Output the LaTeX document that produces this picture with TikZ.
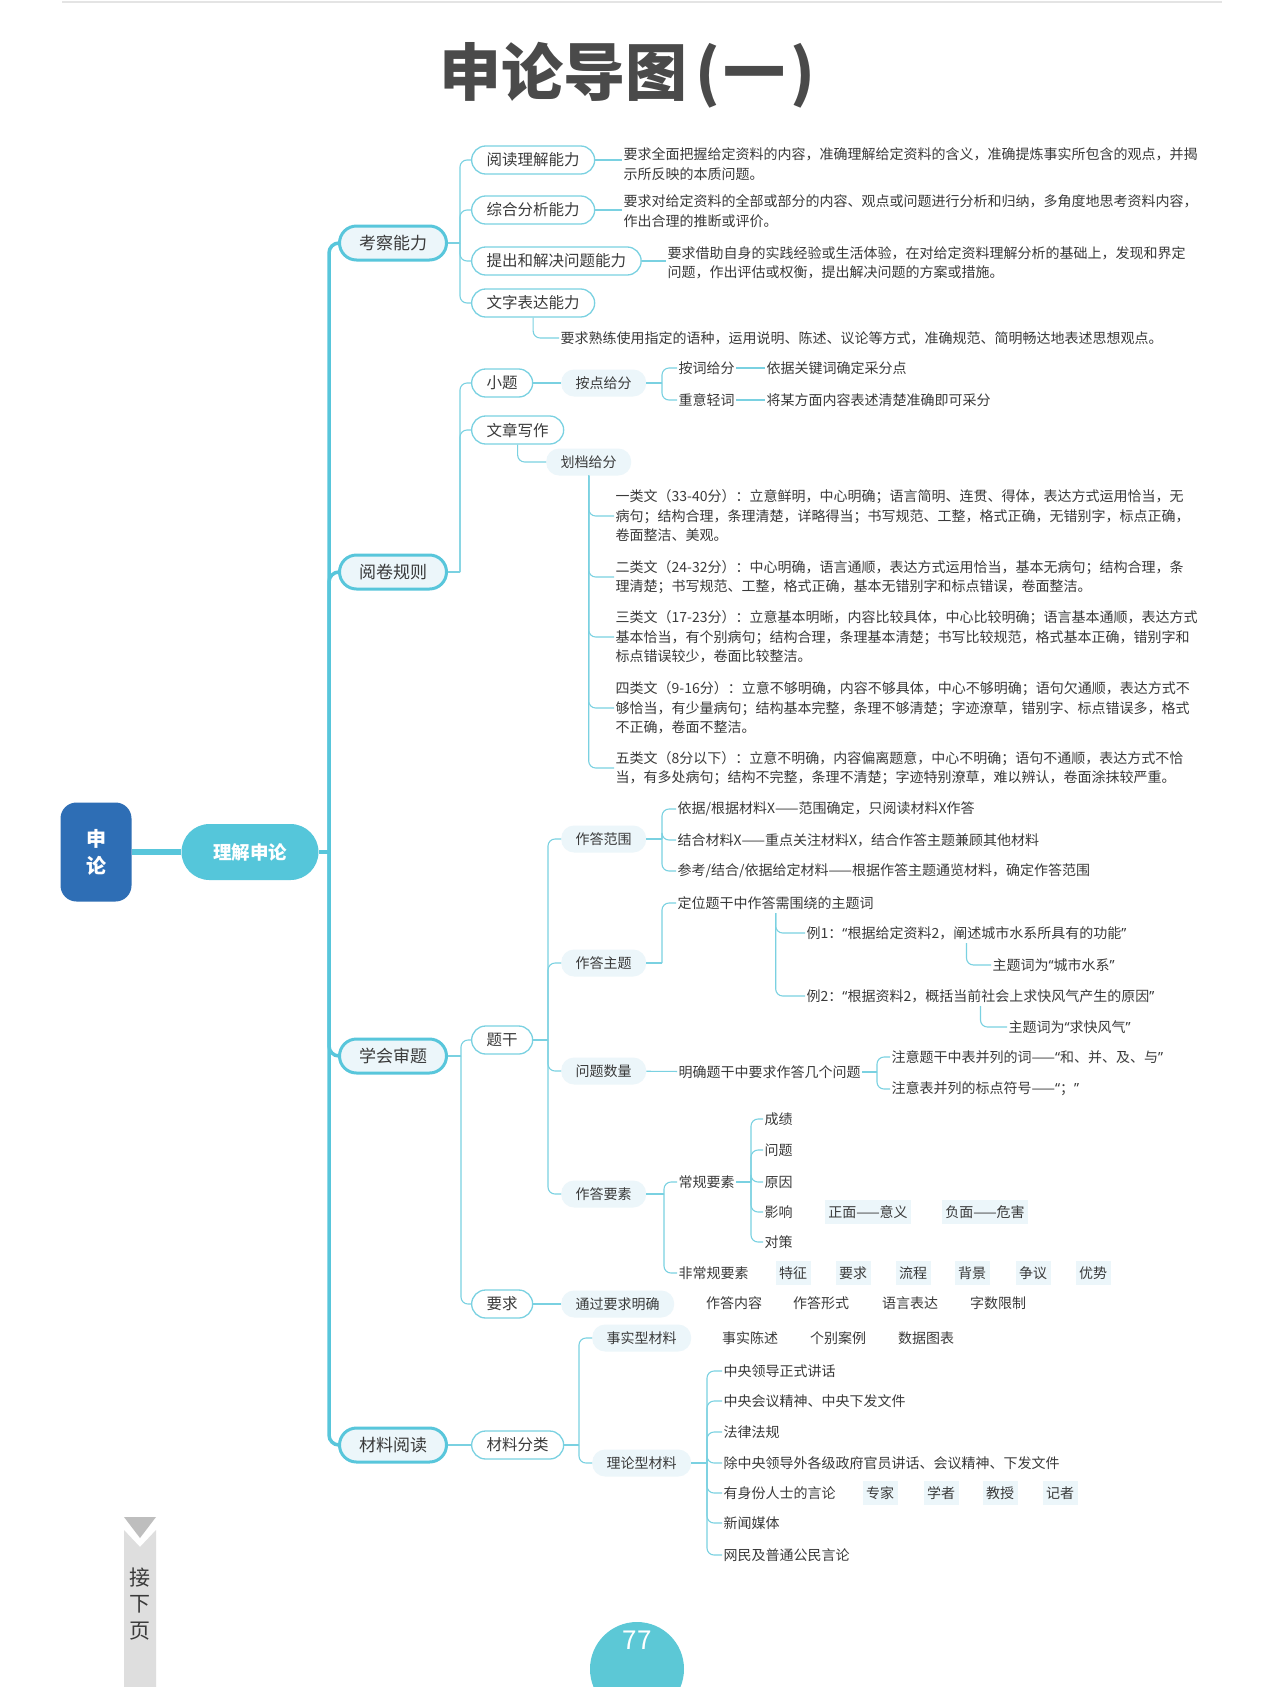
\documentclass[tikz,border=0pt]{standalone}
\usepackage{fontspec}
\setmainfont{Noto Sans CJK SC}
\newfontfamily\qfont{Noto Sans}
\newcommand\oq{{\qfont “}}
\newcommand\cq{{\qfont ”}}
\usepackage{tikz}
\usetikzlibrary{positioning,calc}
\definecolor{linecyan}{RGB}{88,198,219}
\definecolor{thincyan}{RGB}{122,209,225}
\definecolor{softfill}{RGB}{236,246,250}
\definecolor{rootblue}{RGB}{46,110,181}
\definecolor{maincyan}{RGB}{85,198,218}
\definecolor{inkgray}{RGB}{58,58,58}
\definecolor{titlegray}{RGB}{74,74,74}
\definecolor{rulegray}{RGB}{228,228,228}
\definecolor{tabgray}{RGB}{190,190,190}
\definecolor{tablight}{RGB}{222,222,222}
\definecolor{pagecyan}{RGB}{92,200,214}

\tikzset{
  rootbox/.style={fill=rootblue, rounded corners=16pt, minimum width=71pt, minimum height=99pt,
    text=white, align=center, font=\fontsize{20}{27}\selectfont\bfseries},
  mainbox/.style={fill=maincyan, rounded corners=28pt, minimum width=137pt, minimum height=56pt,
    text=white, font=\fontsize{18.5}{20}\selectfont\bfseries},
  lvlone/.style={draw=linecyan, line width=3pt, fill=softfill, rounded corners=17pt,
    minimum width=107pt, minimum height=34pt, inner xsep=0pt, text=inkgray, font=\fontsize{17}{20}\selectfont},
  lvltwo/.style={draw=thincyan, line width=1.3pt, fill=white, rounded corners=14pt, anchor=west,
    minimum height=28pt, inner xsep=15pt, text=inkgray, font=\fontsize{15.5}{18}\selectfont},
  softbox/.style={fill=softfill, rounded corners=13pt, anchor=west, minimum height=27pt,
    inner xsep=14.5pt, text=inkgray, font=\fontsize{14}{17}\selectfont},
  tagbox/.style={fill=softfill, minimum height=24pt, inner xsep=3.5pt, text=inkgray,
    font=\fontsize{14}{17}\selectfont},
  leaf/.style={anchor=west, inner xsep=1.5pt, text=inkgray, font=\fontsize{14}{17}\selectfont},
  para/.style={leaf, align=left, font=\fontsize{14}{19.5}\selectfont},
  link/.style={draw=thincyan, line width=1.1pt, rounded corners=7pt},
  trunk/.style={draw=linecyan, line width=3.5pt, rounded corners=10pt}
}

\begin{document}
\begin{tikzpicture}[x=1pt,y=-1pt]
\useasboundingbox[fill=white] (0,0) rectangle (1280,1687);

% title
\draw[rulegray, line width=1.5pt] (62,2) -- (1222,2);
\node[text=titlegray, font=\fontsize{62}{64}\selectfont\bfseries] (title) at (627,75)
  {申论导图\kern8pt(\kern4pt一\kern4pt)};

% root and main topic
\node[rootbox] (root) at (96,852) {申\\论};
\node[mainbox] (ljsl) at (250,852) {理解申论};
\draw[linecyan, line width=6pt] (root.east) -- (ljsl.west);
\coordinate (tr) at (329,852);
\draw[trunk] (ljsl.east) -- (tr);

\node[lvlone] (kc) at (393,243) {考察能力};
\node[lvlone] (yj) at (393,572) {阅卷规则};
\node[lvlone] (xh) at (393,1056) {学会审题};
\node[lvlone] (cl) at (393,1445) {材料阅读};
\foreach \n in {kc,yj,xh,cl} \draw[trunk] (tr) |- (\n.west);

% 考察能力
\coordinate (kcb) at (460,243);
\draw[link] (kc.east) -- (kcb);
\node[lvltwo] (ydlj) at (471,160) {阅读理解能力};
\node[lvltwo] (zhfx) at (471,210) {综合分析能力};
\node[lvltwo] (tcjj) at (471,261) {提出和解决问题能力};
\node[lvltwo] (wzbd) at (471,303) {文字表达能力};
\foreach \n in {ydlj,zhfx,tcjj,wzbd} \draw[link] (kcb) |- (\n.west);

\node[para] (ydljd) at (622,164) {要求全面把握给定资料的内容，准确理解给定资料的含义，准确提炼事实所包含的观点，并揭\\示所反映的本质问题。};
\node[para] (zhfxd) at (622,211) {要求对给定资料的全部或部分的内容、观点或问题进行分析和归纳，多角度地思考资料内容，\\作出合理的推断或评价。};
\node[para] (tcjjd) at (666,263) {要求借助自身的实践经验或生活体验，在对给定资料理解分析的基础上，发现和界定\\问题，作出评估或权衡，提出解决问题的方案或措施。};
\node[para] (wzbdd) at (559,338) {要求熟练使用指定的语种，运用说明、陈述、议论等方式，准确规范、简明畅达地表述思想观点。};
\draw[link] (ydlj.east) -- (ydlj.east -| ydljd.west);
\draw[link] (zhfx.east) -- (zhfx.east -| zhfxd.west);
\draw[link] (tcjj.east) -- (tcjj.east -| tcjjd.west);
\draw[link] (wzbd.south) |- (wzbdd.west);

% 阅卷规则
\coordinate (yjb) at (460,572);
\draw[link] (yj.east) -- (yjb);
\node[lvltwo] (xt) at (471,383) {小题};
\node[lvltwo] (wzxz) at (471,430) {文章写作};
\foreach \n in {xt,wzxz} \draw[link] (yjb) |- (\n.west);

\node[softbox] (adgf) at (561,383) {按点给分};
\draw[link] (xt) -- (adgf);
\coordinate (adb) at (662,383);
\draw[link] (adgf.east) -- (adb);
\node[leaf] (acgf) at (677,368) {按词给分};
\node[leaf] (ycyd) at (765,368) {依据关键词确定采分点};
\node[leaf] (zyqc) at (677,400) {重意轻词};
\node[leaf] (jmfm) at (765,400) {将某方面内容表述清楚准确即可采分};
\foreach \n in {acgf,zyqc} \draw[link] (adb) |- (\n.west);
\draw[link] (acgf) -- (ycyd);
\draw[link] (zyqc) -- (jmfm);

\node[softbox] (hdgf) at (546,462) {划档给分};
\draw[link] (wzxz.south) |- (hdgf.west);
\node[para] (g1) at (614,516) {一类文（33-40分）：立意鲜明，中心明确；语言简明、连贯、得体，表达方式运用恰当，无\\病句；结构合理，条理清楚，详略得当；书写规范、工整，格式正确，无错别字，标点正确，\\卷面整洁、美观。};
\node[para] (g2) at (614,577) {二类文（24-32分）：中心明确，语言通顺，表达方式运用恰当，基本无病句；结构合理，条\\理清楚；书写规范、工整，格式正确，基本无错别字和标点错误，卷面整洁。};
\node[para] (g3) at (614,637) {三类文（17-23分）：立意基本明晰，内容比较具体，中心比较明确；语言基本通顺，表达方式\\基本恰当，有个别病句；结构合理，条理基本清楚；书写比较规范，格式基本正确，错别字和\\标点错误较少，卷面比较整洁。};
\node[para] (g4) at (614,708) {四类文（9-16分）：立意不够明确，内容不够具体，中心不够明确；语句欠通顺，表达方式不\\够恰当，有少量病句；结构基本完整，条理不够清楚；字迹潦草，错别字、标点错误多，格式\\不正确，卷面不整洁。};
\node[para] (g5) at (614,768) {五类文（8分以下）：立意不明确，内容偏离题意，中心不明确；语句不通顺，表达方式不恰\\当，有多处病句；结构不完整，条理不清楚；字迹特别潦草，难以辨认，卷面涂抹较严重。};
\foreach \n in {g1,g2,g3,g4,g5} \draw[link] (hdgf.south) |- (\n.west);

% 学会审题
\coordinate (xhb) at (461,1056);
\draw[link] (xh.east) -- (xhb);
\node[lvltwo] (tg) at (471,1040) {题干};
\node[lvltwo] (yq) at (471,1304) {要求};
\foreach \n in {tg,yq} \draw[link] (xhb) |- (\n.west);

\coordinate (tgb) at (548,1040);
\draw[link] (tg.east) -- (tgb);
\node[softbox] (zdfw) at (561,839) {作答范围};
\node[softbox] (zdzt) at (561,963) {作答主题};
\node[softbox] (wtsl) at (561,1071) {问题数量};
\node[softbox] (zdys) at (561,1194) {作答要素};
\foreach \n in {zdfw,zdzt,wtsl,zdys} \draw[link] (tgb) |- (\n.west);

% 作答范围
\coordinate (fwb) at (662,839);
\draw[link] (zdfw.east) -- (fwb);
\node[leaf] (fw1) at (676,809) {依据/根据材料X——范围确定，只阅读材料X作答};
\node[leaf] (fw2) at (676,840) {结合材料X——重点关注材料X，结合作答主题兼顾其他材料};
\node[leaf] (fw3) at (676,871) {参考/结合/依据给定材料——根据作答主题通览材料，确定作答范围};
\foreach \n in {fw1,fw2,fw3} \draw[link] (fwb) |- (\n.west);

% 作答主题
\coordinate (ztb) at (662,963);
\draw[link] (zdzt.east) -- (ztb);
\node[leaf] (zt1) at (676,903) {定位题干中作答需围绕的主题词};
\draw[link] (ztb) |- (zt1.west);
\node[leaf] (ex1) at (805,933) {例1：\oq 根据给定资料2，阐述城市水系所具有的功能\cq};
\node[leaf] (ex2) at (805,996) {例2：\oq 根据资料2，概括当前社会上求快风气产生的原因\cq};
\foreach \n in {ex1,ex2} \draw[link] (zt1.south) |- (\n.west);
\node[leaf] (kw1) at (991,965) {主题词为\oq 城市水系\cq};
\node[leaf] (kw2) at (1007,1027) {主题词为\oq 求快风气\cq};
\draw[link] (ex1.south) |- (kw1.west);
\draw[link] (ex2.south) |- (kw2.west);

% 问题数量
\node[leaf] (wt1) at (677,1072) {明确题干中要求作答几个问题};
\draw[link] (wtsl) -- (wt1);
\coordinate (wtb) at (877,1072);
\draw[link] (wt1.east) -- (wtb);
\node[leaf] (wt2) at (890,1057) {注意题干中表并列的词——\oq 和、并、及、与\cq};
\node[leaf] (wt3) at (890,1089) {注意表并列的标点符号——\oq ；\cq};
\foreach \n in {wt2,wt3} \draw[link] (wtb) |- (\n.west);

% 作答要素
\coordinate (ysb) at (664,1194);
\draw[link] (zdys.east) -- (ysb);
\node[leaf] (cgys) at (677,1182) {常规要素};
\node[leaf] (fcgys) at (677,1273) {非常规要素};
\foreach \n in {cgys,fcgys} \draw[link] (ysb) |- (\n.west);
\coordinate (cgb) at (751,1182);
\draw[link] (cgys.east) -- (cgb);
\foreach \n/\lbl/\y in {cj/成绩/1119, wtq/问题/1150, yy/原因/1182, yx/影响/1212, dc/对策/1242} {
  \node[leaf] (\n) at (763,\y) {\lbl};
  \draw[link] (cgb) |- (\n.west);
}
\node[tagbox] (zm) at (868,1212) {正面——意义};
\node[tagbox] (fm) at (985,1212) {负面——危害};
\foreach \n/\lbl/\x in {tz/特征/793, yqs/要求/853, lc/流程/913, bj/背景/972, zy/争议/1033, ys/优势/1093}
  \node[tagbox] (\n) at (\x,1273) {\lbl};

% 要求
\node[softbox] (tgyq) at (561,1304) {通过要求明确};
\draw[link] (yq) -- (tgyq);
\foreach \n/\lbl/\x in {zdnr/作答内容/734, zdxs/作答形式/821, yybd/语言表达/910, zsxz/字数限制/998}
  \node[leaf, anchor=center] (\n) at (\x,1303) {\lbl};

% 材料阅读
\node[lvltwo] (clfl) at (471,1445) {材料分类};
\draw[link] (cl) -- (clfl);
\coordinate (flb) at (579,1445);
\draw[link] (clfl.east) -- (flb);
\node[softbox] (sslx) at (592,1338) {事实型材料};
\node[softbox] (lllx) at (592,1463) {理论型材料};
\foreach \n in {sslx,lllx} \draw[link] (flb) |- (\n.west);
\foreach \n/\lbl/\x in {sscs/事实陈述/750, gbal/个别案例/838, sjtb/数据图表/926}
  \node[leaf, anchor=center] (\n) at (\x,1338) {\lbl};

\coordinate (llb) at (707,1463);
\draw[link] (lllx.east) -- (llb);
\foreach \n/\lbl/\y in {l1/中央领导正式讲话/1371, l2/中央会议精神、中央下发文件/1401, l3/法律法规/1432,
    l4/除中央领导外各级政府官员讲话、会议精神、下发文件/1463, l5/有身份人士的言论/1493,
    l6/新闻媒体/1523, l7/网民及普通公民言论/1555} {
  \node[leaf] (\n) at (722,\y) {\lbl};
  \draw[link] (llb) |- (\n.west);
}
\foreach \n/\lbl/\x in {zj/专家/880, xz/学者/941, js/教授/1000, jz/记者/1060}
  \node[tagbox] (\n) at (\x,1493) {\lbl};

% page tab and number
\fill[tabgray] (124,1517) -- (156,1517) -- (140,1538) -- cycle;
\fill[tablight] (124,1530) -- (140,1547) -- (156,1530) -- (156,1687) -- (124,1687) -- cycle;
\node[text=inkgray, align=center, font=\fontsize{21}{26.5}\selectfont] (jxy) at (140,1604) {接\\下\\页};
\node[circle, fill=pagecyan, minimum size=94pt, inner sep=0pt] (pg) at (637,1669) {};
\node[text=white, font=\fontsize{26}{28}\selectfont] (pgnum) at (637,1640) {77};
\end{tikzpicture}
\end{document}
